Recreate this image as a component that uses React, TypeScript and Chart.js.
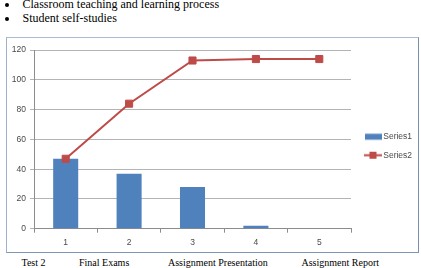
import { useEffect, useRef } from "react";
import { Chart, registerables } from "chart.js";

Chart.register(...registerables);

// Chart data
const categories = ["1", "2", "3", "4", "5"];
const series1Label = "Series1";
const series2Label = "Series2";
const series1 = [47, 37, 28, 2, 0];
const series2 = [47, 84, 113, 114, 114];
const yMin = 0;
const yMax = 120;
const yStep = 20;

// Surrounding document text
const bulletItems = ["Classroom teaching and learning process", "Student self-studies"];
const footerLabels = ["Test 2", "Final Exams", "Assignment Presentation", "Assignment Report"];
const footerLeft = [21.5, 79, 168, 301.5];

const BLUE = "#4f81bd";
const RED = "#be4b48";
const GRID = "#b4b4b4";
const AXIS = "#8c8c8c";
const TEXT = "#4a4a4a";
const FONT = { family: "'Liberation Sans', Arial, sans-serif", size: 8.5 };

function makeIcon(draw: (ctx: CanvasRenderingContext2D) => void): HTMLCanvasElement {
  const c = document.createElement("canvas");
  c.width = 26;
  c.height = 9;
  const ctx = c.getContext("2d")!;
  draw(ctx);
  return c;
}

function ChartBox() {
  const ref = useRef<HTMLCanvasElement | null>(null);

  useEffect(() => {
    if (!ref.current) return;
    const barIcon = makeIcon((ctx) => {
      ctx.fillStyle = BLUE;
      ctx.fillRect(8, 1.5, 17, 6);
    });
    const lineIcon = makeIcon((ctx) => {
      ctx.strokeStyle = RED;
      ctx.lineWidth = 2;
      ctx.beginPath();
      ctx.moveTo(7, 4.5);
      ctx.lineTo(25, 4.5);
      ctx.stroke();
      ctx.fillStyle = RED;
      ctx.fillRect(12.5, 1, 7, 7);
    });
    const icons = [barIcon, lineIcon];

    const chart = new Chart(ref.current, {
      type: "bar",
      data: {
        labels: categories,
        datasets: [
          {
            type: "bar",
            label: series1Label,
            data: series1,
            backgroundColor: BLUE,
            borderWidth: 0,
            categoryPercentage: 1,
            barPercentage: 0.395,
            order: 2,
          },
          {
            type: "line",
            label: series2Label,
            data: series2,
            borderColor: RED,
            backgroundColor: RED,
            borderWidth: 2,
            pointStyle: "rect",
            pointRadius: 5,
            pointBorderWidth: 1,
            pointBorderColor: RED,
            pointBackgroundColor: RED,
            tension: 0,
            order: 1,
          },
        ],
      },
      options: {
        responsive: false,
        animation: false,
        layout: { padding: 0 },
        plugins: {
          tooltip: { enabled: false },
          legend: {
            position: "right",
            align: "center",
            maxWidth: 66,
            labels: {
              usePointStyle: true,
              pointStyleWidth: 18,
              padding: 10,
              color: TEXT,
              font: FONT,
              generateLabels: (c) =>
                c.data.datasets.map((ds, i) => ({
                  text: String(ds.label),
                  pointStyle: icons[i],
                  datasetIndex: i,
                  hidden: false,
                  lineWidth: 0,
                  fillStyle: "transparent",
                  strokeStyle: "transparent",
                  fontColor: TEXT,
                })),
            },
          },
        },
        scales: {
          x: {
            grid: {
              display: true,
              drawOnChartArea: false,
              drawTicks: true,
              tickLength: 4,
              offset: true,
              color: AXIS,
            },
            border: { display: true, color: AXIS },
            ticks: { color: TEXT, font: FONT, padding: 5, maxRotation: 0 },
            afterFit: (s) => {
              s.height = 22.3;
            },
          },
          y: {
            min: yMin,
            max: yMax,
            grid: { color: GRID, tickLength: 4, drawTicks: true },
            border: { display: true, color: AXIS },
            ticks: { stepSize: yStep, color: TEXT, font: FONT, padding: 4 },
            afterFit: (s) => {
              s.width = 26;
              s.paddingTop = 9.1;
            },
          },
        },
      },
    });
    return () => chart.destroy();
  }, []);

  return (
    <canvas
      ref={ref}
      width={409}
      height={210}
      style={{ position: "absolute", left: 8, top: 41, width: 409, height: 210 }}
    />
  );
}

export default function App() {
  return (
    <div
      style={{
        position: "absolute",
        left: 0,
        top: 0,
        width: 421,
        height: 268,
        overflow: "hidden",
        background: "#fff",
        fontFamily: "'Liberation Serif', 'Times New Roman', serif",
        color: "#000",
      }}
    >
      {bulletItems.map((t, i) => (
        <div key={t} style={{ position: "absolute", left: 0, top: -3 + i * 14, height: 14, width: 421 }}>
          <span
            style={{
              position: "absolute",
              left: 5.3,
              top: 6,
              width: 4,
              height: 4,
              borderRadius: 2,
              background: "#000",
            }}
          />
          <span
            style={{
              position: "absolute",
              left: 22.5,
              top: 0,
              fontSize: 12,
              lineHeight: "14px",
              whiteSpace: "nowrap",
            }}
          >
            {t}
          </span>
        </div>
      ))}
      <div
        style={{
          position: "absolute",
          left: 6,
          top: 37,
          width: 413,
          height: 216,
          boxSizing: "border-box",
          borderTop: "1.5px solid #a9bcd3",
          borderLeft: "1.5px solid #9db2cb",
          borderRight: "1.5px solid #7890ab",
          borderBottom: "1.5px solid #7f97b2",
        }}
      />
      <ChartBox />
      {footerLabels.map((t, i) => (
        <span
          key={t}
          style={{
            position: "absolute",
            left: footerLeft[i],
            top: 257.6,
            fontSize: 10,
            lineHeight: "10px",
            whiteSpace: "nowrap",
          }}
        >
          {t}
        </span>
      ))}
    </div>
  );
}
